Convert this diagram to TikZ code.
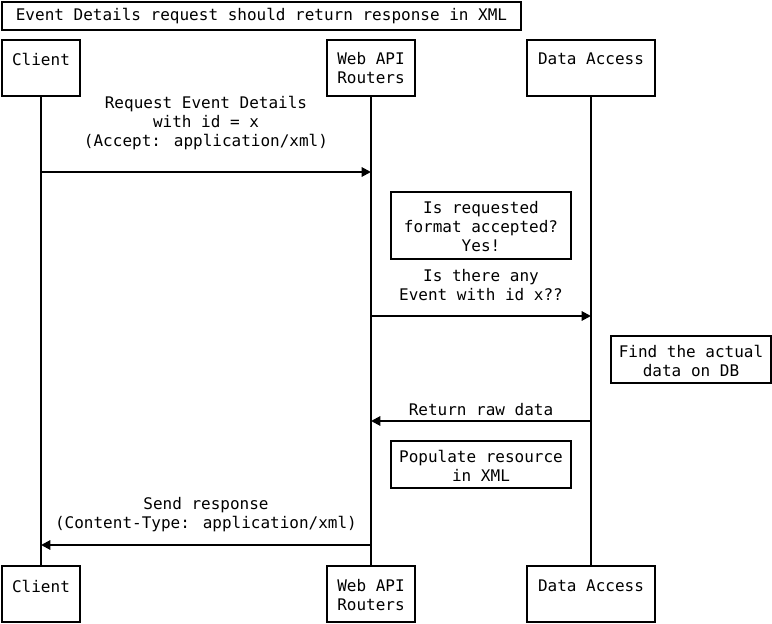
\documentclass[tikz,border=0pt]{standalone}
\usepackage{fontspec}
\setmainfont{DejaVu Sans Mono}
\usetikzlibrary{arrows.meta}
\begin{document}
\begin{tikzpicture}[x=0.75pt,y=-0.75pt,
  every node/.style={font=\fontsize{12}{14.25}\selectfont, inner sep=0pt},
  box/.style={draw, line width=1.5pt, rectangle, fill=white},
  txt/.style={align=center, yshift=-0.75pt},
  life/.style={line width=1.5pt},
  msg/.style={line width=1.5pt, -{Triangle[length=7pt,width=7pt]}}]
\useasboundingbox (0,0) rectangle (772,624);
% title
\node[box, minimum width=389.25pt, minimum height=21pt, text depth=2.5pt] (title) at (261.5,16) {Event Details request should return response in XML};
% participant boxes
\node[box, minimum width=58.5pt, minimum height=42pt] (c1) at (41,68) {};
\node[box, minimum width=66pt, minimum height=42pt] (w1) at (371,68) {};
\node[box, minimum width=96pt, minimum height=42pt] (d1) at (591,68) {};
\node[box, minimum width=58.5pt, minimum height=42pt] (c2) at (41,594) {};
\node[box, minimum width=66pt, minimum height=42pt] (w2) at (371,594) {};
\node[box, minimum width=96pt, minimum height=42pt] (d2) at (591,594) {};
\node[txt] (c1t) at (41,58) {Client};
\node[txt] (w1t) at (371,67.5) {Web API\\Routers};
\node[txt] (d1t) at (591,58) {Data Access};
\node[txt] (c2t) at (41,585) {Client};
\node[txt] (w2t) at (371,594.5) {Web API\\Routers};
\node[txt] (d2t) at (591,585) {Data Access};
% lifelines
\draw[life] (c1.south) -- (c2.north);
\draw[life] (w1.south) -- (w2.north);
\draw[life] (d1.south) -- (d2.north);
% message points
\coordinate (m1s) at (41,172);
\coordinate (m1e) at (371,172);
\coordinate (m2s) at (371,316);
\coordinate (m2e) at (591,316);
\coordinate (m3s) at (591,421);
\coordinate (m3e) at (371,421);
\coordinate (m4s) at (371,545);
\coordinate (m4e) at (41,545);
% messages
\draw[msg] (m1s) -- (m1e);
\node[txt] (l1) at (206,122) {Request Event Details\\with id = x\\(Accept: application/xml)};
\node[box, minimum width=135pt, minimum height=50.25pt] (n1) at (481,225.5) {};
\node[txt] (n1t) at (481,226) {Is requested\\format accepted?\\Yes!};
\draw[msg] (m2s) -- (m2e);
\node[txt] (l2) at (481,284.5) {Is there any\\Event with id x??};
\node[box, minimum width=120pt, minimum height=35.25pt] (n2) at (691,359.5) {};
\node[txt] (n2t) at (691,360) {Find the actual\\data on DB};
\draw[msg] (m3s) -- (m3e);
\node[txt] (l3) at (481,409) {Return raw data};
\node[box, minimum width=135pt, minimum height=35.25pt] (n3) at (481,464.5) {};
\node[txt] (n3t) at (481,465) {Populate resource\\in XML};
\draw[msg] (m4s) -- (m4e);
\node[txt] (l4) at (206,513.5) {Send response\\(Content-Type: application/xml)};
\end{tikzpicture}
\end{document}
